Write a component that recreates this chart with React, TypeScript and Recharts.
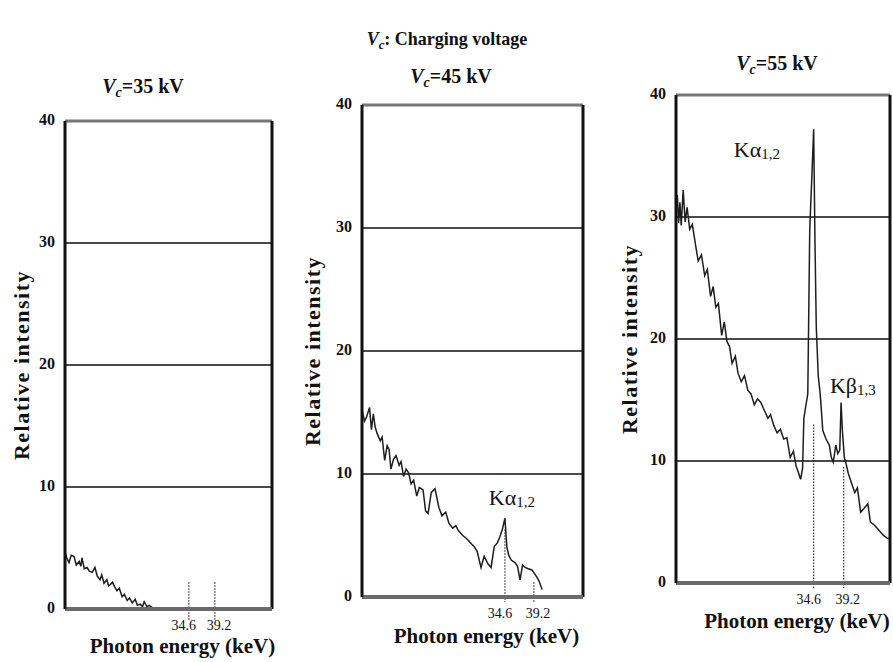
import { LineChart, Line, XAxis, YAxis, CartesianGrid, ReferenceLine, ReferenceDot } from 'recharts';

const SERIF = "'Liberation Serif', 'Times New Roman', serif";

// Vc = 35 kV
const energy35 = [12.7, 13.0, 13.4, 13.8, 14.3, 14.7, 15.2, 15.5, 15.7, 16.1, 16.6, 17.0, 17.5, 18.0, 18.4, 18.9, 19.2, 19.6, 20.1, 20.4, 20.7, 21.1, 21.5, 21.9, 22.3, 22.8, 23.2, 23.7, 24.1, 24.6, 25.1, 25.5, 26.0, 26.4, 26.7, 27.2, 27.6, 28.2];
const intensity35 = [4.7, 4.2, 3.8, 4.4, 4.3, 3.6, 3.9, 3.5, 4.2, 3.3, 3.4, 3.1, 3.0, 3.4, 2.7, 2.4, 2.8, 2.1, 2.4, 1.9, 2.0, 2.2, 1.8, 1.5, 1.7, 1.0, 1.2, 0.7, 0.9, 0.5, 0.8, 0.3, 0.4, 0.2, 0.6, 0.2, 0.3, 0.1];

// Vc = 45 kV
const energy45 = [11.9, 12.3, 12.6, 13.1, 13.4, 13.7, 14.0, 14.3, 14.8, 15.1, 15.5, 15.9, 16.2, 16.5, 16.9, 17.3, 17.8, 18.1, 18.5, 18.9, 19.3, 19.7, 20.1, 20.6, 21.0, 21.6, 22.0, 22.4, 22.9, 23.5, 24.1, 24.6, 25.2, 25.7, 26.3, 26.8, 27.2, 27.9, 28.4, 28.8, 29.3, 29.7, 30.2, 30.8, 31.3, 31.9, 32.4, 32.9, 33.4, 33.8, 34.2, 34.6, 34.9, 35.2, 35.6, 36.2, 36.6, 37.0, 37.4, 37.8, 38.3, 38.9, 39.3, 39.7, 40.1, 40.5];
const intensity45 = [15.2, 14.3, 14.6, 15.4, 13.6, 14.9, 13.8, 13.3, 12.7, 13.0, 11.1, 12.3, 12.0, 10.4, 11.2, 11.5, 10.7, 11.0, 9.8, 10.4, 10.1, 9.2, 9.5, 8.2, 8.9, 8.7, 7.0, 6.8, 8.5, 8.8, 7.3, 6.6, 6.9, 6.0, 5.6, 5.8, 5.4, 5.0, 4.8, 4.6, 4.3, 4.1, 3.7, 2.4, 3.3, 2.7, 2.4, 4.1, 4.4, 4.9, 5.5, 6.4, 4.1, 3.4, 3.0, 2.8, 2.5, 1.4, 2.6, 2.4, 2.3, 2.2, 1.9, 1.6, 1.2, 0.6];

// Vc = 55 kV
const energy55 = [13.5, 13.7, 13.9, 14.1, 14.3, 14.6, 14.9, 15.2, 15.6, 16.0, 16.5, 16.9, 17.4, 17.9, 18.3, 18.8, 19.2, 19.6, 20.0, 20.5, 20.9, 21.3, 21.7, 22.1, 22.6, 23.0, 23.5, 24.0, 24.5, 25.0, 25.5, 26.0, 26.5, 27.0, 27.6, 28.0, 28.5, 29.0, 29.5, 30.0, 30.5, 31.0, 31.5, 31.9, 32.3, 32.6, 32.9, 33.1, 33.3, 33.7, 34.0, 34.3, 34.6, 34.8, 35.0, 35.3, 35.6, 36.0, 36.5, 37.0, 37.3, 37.6, 38.0, 38.3, 38.6, 38.8, 39.0, 39.3, 39.6, 39.9, 40.4, 40.9, 41.3, 41.8, 42.3, 42.9, 43.3, 43.8, 44.3, 44.8, 45.3, 45.8, 46.3];
const intensity55 = [30.6, 31.8, 29.5, 31.2, 29.3, 32.2, 29.6, 30.8, 29.0, 29.4, 27.7, 26.4, 26.9, 25.2, 25.7, 23.5, 24.3, 22.6, 22.9, 20.3, 21.4, 19.8, 19.4, 18.0, 18.6, 17.2, 16.5, 17.0, 15.8, 15.5, 14.6, 15.1, 14.8, 14.2, 13.5, 13.8, 12.9, 12.3, 12.6, 11.8, 11.9, 10.3, 10.8, 9.6, 9.0, 8.5, 9.4, 13.5, 14.2, 15.5, 29.0, 33.0, 37.2, 28.0, 21.0, 17.0, 15.5, 12.5, 11.8, 11.3, 10.3, 9.9, 11.3, 10.6, 10.9, 14.8, 12.5, 10.3, 9.7, 9.0, 8.2, 7.4, 7.8, 5.8, 6.1, 6.5, 5.0, 4.8, 4.5, 4.2, 3.9, 3.7, 3.6];

const yTicks = [0, 10, 20, 30, 40];
const lineEnergies = [34.6, 39.2];

// layout (page px)
const YW = 72;
const MT = 10;
const MR = 10;
const XH = 60;

const panels = [
  {
    kv: '35', energy: energy35, intensity: intensity35, domain: [12.7, 49.3],
    box: { left: 65, top: 121, width: 207, height: 488 }, title: { x: 143, y: 86 }, yOff: 41, xOff: 39,
    dots: [2.2, 2.2], dotBottom: -0.9, peaks: [],
  },
  {
    kv: '45', energy: energy45, intensity: intensity45, domain: [11.9, 47.0],
    box: { left: 362, top: 105, width: 221, height: 492 }, title: { x: 451, y: 76 }, yOff: 47, xOff: 41,
    dots: [5.5, 1.2], dotBottom: -0.4,
    peaks: [{ x: 35.7, y: 7.9, main: 'Kα', sub: '1,2' }],
  },
  {
    kv: '55', energy: energy55, intensity: intensity55, domain: [13.5, 46.3],
    box: { left: 676, top: 95, width: 214, height: 488 }, title: { x: 777, y: 63 }, yOff: 44, xOff: 40,
    dots: [13, 9.5], dotBottom: -0.4,
    peaks: [
      { x: 25.9, y: 35.3, main: 'Kα', sub: '1,2' },
      { x: 40.6, y: 16, main: 'Kβ', sub: '1,3' },
    ],
  },
];

function XTick({ x, y, payload, index }: any) {
  const dx = index === 0 ? -5 : 4;
  return (
    <text x={x + dx} y={y + 18} textAnchor="middle" dominantBaseline="middle" fontFamily={SERIF} fontSize={14} fill="#111">
      {payload.value}
    </text>
  );
}

function YTick({ x, y, payload }: any) {
  return (
    <text x={x} y={y} textAnchor="end" dominantBaseline="middle" fontFamily={SERIF} fontSize={16} fontWeight="bold" fill="#111">
      {payload.value}
    </text>
  );
}

function XTitle({ viewBox, off }: any) {
  const cx = viewBox.x + viewBox.width / 2 + 14;
  return (
    <text x={cx} y={viewBox.y + off} textAnchor="middle" dominantBaseline="middle" fontFamily={SERIF} fontSize={21} fontWeight="bold" fill="#111">
      Photon energy (keV)
    </text>
  );
}

function YTitle({ viewBox, off }: any) {
  const cx = viewBox.x + viewBox.width - off;
  const cy = viewBox.y + viewBox.height / 2;
  return (
    <text x={cx} y={cy} transform={`rotate(-90 ${cx} ${cy})`} textAnchor="middle" dominantBaseline="middle"
      fontFamily={SERIF} fontSize={22} fontWeight="bold" letterSpacing={1.5} fill="#111">
      Relative intensity
    </text>
  );
}

function PeakLabel({ viewBox, main, sub }: any) {
  const cx = viewBox.x + (viewBox.width || 0) / 2;
  const cy = viewBox.y + (viewBox.height || 0) / 2;
  return (
    <text x={cx} y={cy} textAnchor="middle" dominantBaseline="middle" fontFamily={SERIF} fill="#111">
      <tspan fontSize={22}>{main}</tspan>
      <tspan fontSize={15} dy={4} fill="#111">{sub}</tspan>
    </text>
  );
}

function Vc({ rest }: { rest: string }) {
  return (
    <span>
      <i>V</i>
      <i style={{ fontSize: '0.7em', position: 'relative', top: '0.3em' }}>c</i>
      {rest}
    </span>
  );
}

function Title({ x, y, size, rest }: any) {
  return (
    <div style={{
      position: 'absolute', left: x, top: y, transform: 'translate(-50%, -50%)',
      fontFamily: SERIF, fontWeight: 'bold', fontSize: size, whiteSpace: 'nowrap', color: '#111', lineHeight: 1,
    }}>
      <Vc rest={rest} />
    </div>
  );
}

function Panel({ p }: any) {
  const data = p.energy.map((e: number, i: number) => ({ e, v: p.intensity[i] }));
  const w = YW + p.box.width + MR;
  const h = MT + p.box.height + XH;
  return (
    <div style={{ position: 'absolute', left: p.box.left - YW, top: p.box.top - MT }}>
      <LineChart width={w} height={h} data={data} margin={{ top: MT, right: MR, bottom: 0, left: 0 }}>
        <CartesianGrid vertical={false} stroke="#4a4a4a" strokeWidth={1.8} />
        <XAxis
          dataKey="e" type="number" domain={p.domain} allowDataOverflow ticks={lineEnergies} interval={0}
          height={XH} tickSize={0} tickMargin={0} tickLine={false}
          axisLine={{ stroke: '#6a6a6a', strokeWidth: 4 }} tick={<XTick />}
          label={<XTitle off={p.xOff} />}
        />
        <YAxis
          type="number" domain={[0, 40]} allowDataOverflow ticks={yTicks} interval={0} width={YW}
          tickSize={0} tickMargin={10} tickLine={false}
          axisLine={{ stroke: '#111', strokeWidth: 3 }} tick={<YTick />}
          label={<YTitle off={p.yOff} />}
        />
        <ReferenceLine y={40} stroke="#777" strokeWidth={3} />
        <ReferenceLine x={p.domain[1]} stroke="#111" strokeWidth={3} />
        {lineEnergies.map((x: number, i: number) => (
          <ReferenceLine
            key={x}
            segment={[{ x, y: p.dots[i] }, { x, y: p.dotBottom }]}
            ifOverflow="visible"
            stroke="#333"
            strokeWidth={1.2}
            strokeDasharray="1.5 1.5"
          />
        ))}
        <Line type="linear" dataKey="v" stroke="#1e1e1e" strokeWidth={1.5} dot={false} isAnimationActive={false} />
        {p.peaks.map((k: any) => (
          <ReferenceDot key={k.main} x={k.x} y={k.y} r={1} fill="none" stroke="none"
            label={<PeakLabel main={k.main} sub={k.sub} />} />
        ))}
      </LineChart>
    </div>
  );
}

export default function App() {
  return (
    <div style={{ position: 'relative', width: 893, height: 662, overflow: 'hidden', background: '#fff' }}>
      <style>{'body { margin: 0; }'}</style>
      <Title x={447} y={39} size={18} rest=": Charging voltage" />
      {panels.map((p) => (
        <Title key={p.kv} x={p.title.x} y={p.title.y} size={20} rest={`=${p.kv} kV`} />
      ))}
      {panels.map((p) => (
        <Panel key={p.kv} p={p} />
      ))}
    </div>
  );
}
